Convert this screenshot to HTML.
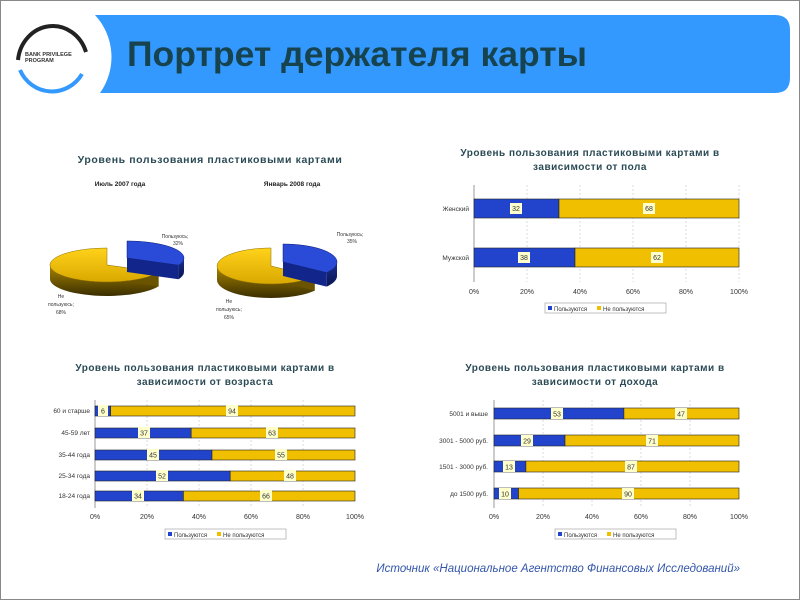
<!DOCTYPE html>
<html><head><meta charset="utf-8"><style>
html,body{margin:0;padding:0;background:#fff}
svg{display:block}
text{font-family:"Liberation Sans",sans-serif}
</style></head><body>
<svg width="800" height="600" viewBox="0 0 800 600" xmlns="http://www.w3.org/2000/svg">
<defs>
<linearGradient id="yg" x1="0" y1="0" x2="0" y2="1"><stop offset="0" stop-color="#ffd21a"/><stop offset="1" stop-color="#d9a800"/></linearGradient>
<linearGradient id="ys" x1="0" y1="0" x2="0" y2="1"><stop offset="0" stop-color="#a88400"/><stop offset="1" stop-color="#3a2e00"/></linearGradient>
<linearGradient id="bs" x1="0" y1="0" x2="0" y2="1"><stop offset="0" stop-color="#1a2f90"/><stop offset="1" stop-color="#0a1550"/></linearGradient>
</defs>
<rect x="0.5" y="0.5" width="799" height="599" fill="#fff" stroke="#888"/>
<path d="M95,15 L775,15 Q790,15 790,30 L790,78 Q790,93 775,93 L100,93 A62,62 0 0 0 95,15 Z" fill="#3399ff"/>
<text x="127" y="66" font-size="35" font-weight="bold" fill="#17434f" textLength="460" lengthAdjust="spacingAndGlyphs">Портрет держателя карты</text>
<path d="M18,60 A35,38 0 0 1 86,52" fill="none" stroke="#222" stroke-width="4"/>
<path d="M20,70 A35,36 0 0 0 82,74" fill="none" stroke="#3399ff" stroke-width="4"/>
<text x="25" y="56" font-size="5.5" font-weight="bold" fill="#333">BANK PRIVILEGE</text>
<text x="25" y="62" font-size="5.5" font-weight="bold" fill="#333">PROGRAM</text>

<text x="210" y="163" font-size="10.5" font-weight="bold" fill="#2a4a55" text-anchor="middle" letter-spacing="0.6">Уровень пользования пластиковыми картами</text>
<text x="120" y="186" font-size="6.5" font-weight="bold" fill="#222" text-anchor="middle">Июль 2007 года</text>
<text x="292" y="186" font-size="6.5" font-weight="bold" fill="#222" text-anchor="middle">Январь 2008 года</text>
<!-- left pie -->
<path d="M158.6,272.2 A57,17 0 0 1 50,265 L50,279 A57,17 0 0 0 158.6,286.2 Z" fill="url(#ys)"/>
<path d="M107,265 L158.6,272.2 L158.6,286.2 L107,279 Z" fill="#6a5400"/>
<path d="M107,265 L158.6,272.2 A57,17 0 1 1 107,248 Z" fill="url(#yg)" stroke="#8a6d00" stroke-width="0.5"/>
<path d="M184,258 A57,17 0 0 1 178.6,265.2 L178.6,279.2 A57,17 0 0 0 184,272 Z" fill="url(#bs)"/>
<path d="M127,258 L178.6,265.2 L178.6,279.2 L127,272 Z" fill="#12258a"/>
<path d="M127,258 L127,241 A57,17 0 0 1 178.6,265.2 Z" fill="#2a4ad8" stroke="#0a1a70" stroke-width="0.5"/>
<text x="175" y="238" font-size="5" fill="#333" text-anchor="middle">Пользуюсь;</text>
<text x="178" y="245" font-size="5" fill="#333" text-anchor="middle">32%</text>
<text x="61" y="298" font-size="5" fill="#333" text-anchor="middle">Не</text>
<text x="61" y="306" font-size="5" fill="#333" text-anchor="middle">пользуюсь;</text>
<text x="61" y="314" font-size="5" fill="#333" text-anchor="middle">68%</text>
<!-- right pie -->
<path d="M314.7,276.6 A54,18 0 0 1 217,266 L217,280 A54,18 0 0 0 314.7,290.6 Z" fill="url(#ys)"/>
<path d="M271,266 L314.7,276.6 L314.7,290.6 L271,280 Z" fill="#6a5400"/>
<path d="M271,266 L314.7,276.6 A54,18 0 1 1 271,248 Z" fill="url(#yg)" stroke="#8a6d00" stroke-width="0.5"/>
<path d="M337,262 A54,18 0 0 1 326.7,272.6 L326.7,286.6 A54,18 0 0 0 337,276 Z" fill="url(#bs)"/>
<path d="M283,262 L326.7,272.6 L326.7,286.6 L283,276 Z" fill="#12258a"/>
<path d="M283,262 L283,244 A54,18 0 0 1 326.7,272.6 Z" fill="#2a4ad8" stroke="#0a1a70" stroke-width="0.5"/>
<text x="350" y="236" font-size="5" fill="#333" text-anchor="middle">Пользуюсь;</text>
<text x="352" y="243" font-size="5" fill="#333" text-anchor="middle">35%</text>
<text x="229" y="303" font-size="5" fill="#333" text-anchor="middle">Не</text>
<text x="229" y="311" font-size="5" fill="#333" text-anchor="middle">пользуюсь;</text>
<text x="229" y="319" font-size="5" fill="#333" text-anchor="middle">65%</text>

<!-- chart 2 -->
<text x="590" y="156" font-size="10" font-weight="bold" fill="#2a4a55" text-anchor="middle" letter-spacing="0.5">Уровень пользования пластиковыми картами в</text>
<text x="590" y="170" font-size="10" font-weight="bold" fill="#2a4a55" text-anchor="middle" letter-spacing="0.5">зависимости от пола</text>
<g stroke="#ccc" stroke-dasharray="2,2" stroke-width="0.7">
<line x1="527" y1="185" x2="527" y2="282"/><line x1="580" y1="185" x2="580" y2="282"/><line x1="633" y1="185" x2="633" y2="282"/><line x1="686" y1="185" x2="686" y2="282"/><line x1="739" y1="185" x2="739" y2="282"/>
</g>
<line x1="474" y1="185" x2="474" y2="282" stroke="#999"/>
<rect x="474" y="199" width="85" height="19" fill="#2244cc" stroke="#222" stroke-width="0.6"/>
<rect x="559" y="199" width="180" height="19" fill="#f0c000" stroke="#222" stroke-width="0.6"/>
<rect x="474" y="248" width="101" height="19" fill="#2244cc" stroke="#222" stroke-width="0.6"/>
<rect x="575" y="248" width="164" height="19" fill="#f0c000" stroke="#222" stroke-width="0.6"/>
<g font-size="7" fill="#333" text-anchor="middle">
<rect x="510" y="203" width="12" height="11" fill="#ffffcc"/><text x="516" y="211">32</text>
<rect x="643" y="203" width="12" height="11" fill="#ffffcc"/><text x="649" y="211">68</text>
<rect x="518" y="252" width="12" height="11" fill="#ffffcc"/><text x="524" y="260">38</text>
<rect x="651" y="252" width="12" height="11" fill="#ffffcc"/><text x="657" y="260">62</text>
<text x="474" y="294">0%</text><text x="527" y="294">20%</text><text x="580" y="294">40%</text><text x="633" y="294">60%</text><text x="686" y="294">80%</text><text x="739" y="294">100%</text>
</g>
<g font-size="6.5" fill="#333" text-anchor="end"><text x="469" y="211">Женский</text><text x="469" y="260">Мужской</text></g>
<rect x="545" y="303" width="121" height="10" fill="#fff" stroke="#999" stroke-width="0.6"/>
<rect x="548" y="306" width="4" height="4" fill="#2244cc"/><text x="554" y="311" font-size="6" fill="#333">Пользуются</text>
<rect x="597" y="306" width="4" height="4" fill="#f0c000"/><text x="603" y="311" font-size="6" fill="#333">Не пользуются</text>

<!-- chart 3 -->
<text x="205" y="371" font-size="10" font-weight="bold" fill="#2a4a55" text-anchor="middle" letter-spacing="0.5">Уровень пользования пластиковыми картами в</text>
<text x="205" y="385" font-size="10" font-weight="bold" fill="#2a4a55" text-anchor="middle" letter-spacing="0.5">зависимости от возраста</text>
<g stroke="#ccc" stroke-dasharray="2,2" stroke-width="0.7">
<line x1="147" y1="400" x2="147" y2="508"/><line x1="199" y1="400" x2="199" y2="508"/><line x1="251" y1="400" x2="251" y2="508"/><line x1="303" y1="400" x2="303" y2="508"/>
</g>
<line x1="95" y1="400" x2="95" y2="508" stroke="#999"/>
<g stroke="#222" stroke-width="0.6">
<rect x="95" y="406" width="15.6" height="10" fill="#2244cc"/><rect x="110.6" y="406" width="244.4" height="10" fill="#f0c000"/>
<rect x="95" y="428" width="96.2" height="10" fill="#2244cc"/><rect x="191.2" y="428" width="163.8" height="10" fill="#f0c000"/>
<rect x="95" y="450" width="117" height="10" fill="#2244cc"/><rect x="212" y="450" width="143" height="10" fill="#f0c000"/>
<rect x="95" y="471" width="135.2" height="10" fill="#2244cc"/><rect x="230.2" y="471" width="124.8" height="10" fill="#f0c000"/>
<rect x="95" y="491" width="88.4" height="10" fill="#2244cc"/><rect x="183.4" y="491" width="171.6" height="10" fill="#f0c000"/>
</g>
<g font-size="7" fill="#333" text-anchor="middle">
<rect x="98" y="405" width="10" height="11" fill="#ffffcc"/><text x="103" y="413.5">6</text>
<rect x="226" y="405" width="12" height="11" fill="#ffffcc"/><text x="232" y="413.5">94</text>
<rect x="138" y="427" width="12" height="11" fill="#ffffcc"/><text x="144" y="435.5">37</text>
<rect x="266" y="427" width="12" height="11" fill="#ffffcc"/><text x="272" y="435.5">63</text>
<rect x="147" y="449" width="12" height="11" fill="#ffffcc"/><text x="153" y="457.5">45</text>
<rect x="275" y="449" width="12" height="11" fill="#ffffcc"/><text x="281" y="457.5">55</text>
<rect x="156" y="470" width="12" height="11" fill="#ffffcc"/><text x="162" y="478.5">52</text>
<rect x="284" y="470" width="12" height="11" fill="#ffffcc"/><text x="290" y="478.5">48</text>
<rect x="132" y="490" width="12" height="11" fill="#ffffcc"/><text x="138" y="498.5">34</text>
<rect x="260" y="490" width="12" height="11" fill="#ffffcc"/><text x="266" y="498.5">66</text>
<text x="95" y="519">0%</text><text x="147" y="519">20%</text><text x="199" y="519">40%</text><text x="251" y="519">60%</text><text x="303" y="519">80%</text><text x="355" y="519">100%</text>
</g>
<g font-size="6.5" fill="#333" text-anchor="end">
<text x="90" y="413">60 и старше</text><text x="90" y="435">45-59 лет</text><text x="90" y="457">35-44 года</text><text x="90" y="478">25-34 года</text><text x="90" y="498">18-24 года</text>
</g>
<rect x="165" y="529" width="121" height="10" fill="#fff" stroke="#999" stroke-width="0.6"/>
<rect x="168" y="532" width="4" height="4" fill="#2244cc"/><text x="174" y="537" font-size="6" fill="#333">Пользуются</text>
<rect x="217" y="532" width="4" height="4" fill="#f0c000"/><text x="223" y="537" font-size="6" fill="#333">Не пользуются</text>

<!-- chart 4 -->
<text x="595" y="371" font-size="10" font-weight="bold" fill="#2a4a55" text-anchor="middle" letter-spacing="0.5">Уровень пользования пластиковыми картами в</text>
<text x="595" y="385" font-size="10" font-weight="bold" fill="#2a4a55" text-anchor="middle" letter-spacing="0.5">зависимости от дохода</text>
<g stroke="#ccc" stroke-dasharray="2,2" stroke-width="0.7">
<line x1="543" y1="400" x2="543" y2="508"/><line x1="592" y1="400" x2="592" y2="508"/><line x1="641" y1="400" x2="641" y2="508"/><line x1="690" y1="400" x2="690" y2="508"/>
</g>
<line x1="494" y1="400" x2="494" y2="508" stroke="#999"/>
<g stroke="#222" stroke-width="0.6">
<rect x="494" y="408" width="129.9" height="11" fill="#2244cc"/><rect x="623.9" y="408" width="115.1" height="11" fill="#f0c000"/>
<rect x="494" y="435" width="71" height="11" fill="#2244cc"/><rect x="565" y="435" width="174" height="11" fill="#f0c000"/>
<rect x="494" y="461" width="31.9" height="11" fill="#2244cc"/><rect x="525.9" y="461" width="213.1" height="11" fill="#f0c000"/>
<rect x="494" y="488" width="24.5" height="11" fill="#2244cc"/><rect x="518.5" y="488" width="220.5" height="11" fill="#f0c000"/>
</g>
<g font-size="7" fill="#333" text-anchor="middle">
<rect x="551" y="408" width="12" height="11" fill="#ffffcc"/><text x="557" y="416.5">53</text>
<rect x="675" y="408" width="12" height="11" fill="#ffffcc"/><text x="681" y="416.5">47</text>
<rect x="521" y="435" width="12" height="11" fill="#ffffcc"/><text x="527" y="443.5">29</text>
<rect x="646" y="435" width="12" height="11" fill="#ffffcc"/><text x="652" y="443.5">71</text>
<rect x="503" y="461" width="12" height="11" fill="#ffffcc"/><text x="509" y="469.5">13</text>
<rect x="625" y="461" width="12" height="11" fill="#ffffcc"/><text x="631" y="469.5">87</text>
<rect x="499" y="488" width="12" height="11" fill="#ffffcc"/><text x="505" y="496.5">10</text>
<rect x="622" y="488" width="12" height="11" fill="#ffffcc"/><text x="628" y="496.5">90</text>
<text x="494" y="519">0%</text><text x="543" y="519">20%</text><text x="592" y="519">40%</text><text x="641" y="519">60%</text><text x="690" y="519">80%</text><text x="739" y="519">100%</text>
</g>
<g font-size="6.5" fill="#333" text-anchor="end">
<text x="488" y="416">5001 и выше</text><text x="488" y="443">3001 - 5000 руб.</text><text x="488" y="469">1501 - 3000 руб.</text><text x="488" y="496">до 1500 руб.</text>
</g>
<rect x="555" y="529" width="121" height="10" fill="#fff" stroke="#999" stroke-width="0.6"/>
<rect x="558" y="532" width="4" height="4" fill="#2244cc"/><text x="564" y="537" font-size="6" fill="#333">Пользуются</text>
<rect x="607" y="532" width="4" height="4" fill="#f0c000"/><text x="613" y="537" font-size="6" fill="#333">Не пользуются</text>

<text x="740" y="572" font-size="11.5" font-style="italic" fill="#3355aa" text-anchor="end">Источник «Национальное Агентство Финансовых Исследований»</text>
</svg>
</body></html>
